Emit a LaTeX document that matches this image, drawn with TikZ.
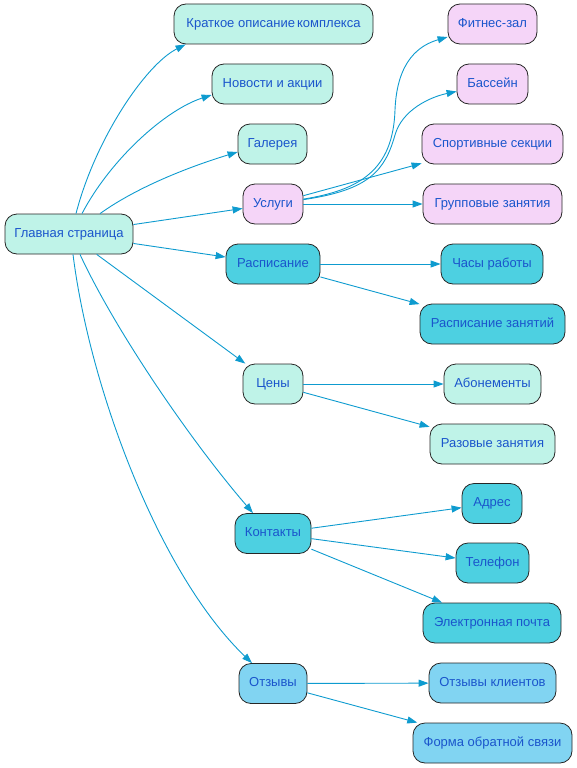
\documentclass[tikz,border=0pt]{standalone}
\usepackage{fontspec}
\setmainfont{Liberation Sans}
\usetikzlibrary{arrows.meta}
\definecolor{mint}{HTML}{BFF3E8}
\definecolor{pinkc}{HTML}{F5D5F8}
\definecolor{cyanc}{HTML}{4DD0E1}
\definecolor{lblue}{HTML}{81D4F2}
\definecolor{txt}{HTML}{1A55CC}
\definecolor{edgec}{HTML}{0E9BCF}
\begin{document}
\begin{tikzpicture}[x=1pt,y=-1pt,
  box/.style={draw=black!85, line width=0.8pt, rounded corners=12pt, minimum height=40pt,
    inner xsep=0pt, inner ysep=0pt, font=\fontsize{13}{15}\selectfont, text=txt,
    text height=9.4pt, text depth=2.6pt},
  mintbox/.style={box, fill=mint},
  pinkbox/.style={box, fill=pinkc},
  cyanbox/.style={box, fill=cyanc},
  bluebox/.style={box, fill=lblue},
  edge/.style={draw=edgec, line width=0.9pt, -{Triangle[length=10pt,width=7pt]}}]
\useasboundingbox (0,0) rectangle (577,768);
% left and middle column
\node[mintbox, minimum width=128pt] (main) at (69,234) {Главная страница};
\node[mintbox, minimum width=199pt] (kratk) at (273.5,24) {Краткое описание\hspace{-1.5pt} комплекса};
\node[mintbox, minimum width=121pt] (news) at (272.5,84) {Новости и акции};
\node[mintbox, minimum width=69pt] (gal) at (272.5,144) {Галерея};
\node[pinkbox, minimum width=60pt] (usl) at (273,204) {Услуги};
\node[cyanbox, minimum width=94pt] (rasp) at (273,264) {Расписание};
\node[mintbox, minimum width=60pt] (ceny) at (273,384) {Цены};
\node[cyanbox, minimum width=76pt] (kont) at (273,533.5) {Контакты};
\node[bluebox, minimum width=68pt] (otz) at (273,683.5) {Отзывы};
% right column
\node[pinkbox, minimum width=89pt] (fit) at (492.5,24) {Фитнес-зал};
\node[pinkbox, minimum width=71pt] (bass) at (492.5,84) {Бассейн};
\node[pinkbox, minimum width=141pt] (sport) at (492.5,144) {Спортивные секции};
\node[pinkbox, minimum width=139pt] (group) at (492.5,204) {Групповые занятия};
\node[cyanbox, minimum width=102pt] (chasy) at (492,264) {Часы работы};
\node[cyanbox, minimum width=145pt] (rasp2) at (492.5,324) {Расписание занятий};
\node[mintbox, minimum width=97pt] (abon) at (492.5,384) {Абонементы};
\node[mintbox, minimum width=125pt] (razov) at (492.5,444) {Разовые занятия};
\node[cyanbox, minimum width=60pt] (adres) at (492,503.5) {Адрес};
\node[cyanbox, minimum width=73pt] (tel) at (492.5,563) {Телефон};
\node[cyanbox, minimum width=138pt] (email) at (492,623) {Электронная почта};
\node[bluebox, minimum width=127pt] (klient) at (492.5,683) {Отзывы клиентов};
\node[bluebox, minimum width=159pt] (forma) at (492.5,743) {Форма обратной связи};
% edges from main
\draw[edge] ([xshift=7pt]main.north) .. controls (95,140) and (145,65) .. ([xshift=12pt]kratk.south west);
\draw[edge] ([xshift=13pt]main.north) .. controls (110,160) and (165,110) .. ([yshift=-11pt]news.west);
\draw[edge] ([xshift=31pt]main.north) .. controls (140,185) and (195,165) .. ([yshift=-8pt]gal.west);
\draw[edge] (main) -- (usl);
\draw[edge] (main) -- (rasp);
\draw[edge] (main) -- (ceny);
\draw[edge] ([xshift=11pt]main.south) .. controls (115,330) and (190,440) .. ([xshift=-20pt]kont.north);
\draw[edge] ([xshift=4pt]main.south) .. controls (90,390) and (160,575) .. ([xshift=-21pt]otz.north);
% edges from Услуги
\draw[edge] (usl) .. controls (360,190) and (393,170) .. (395,110) .. controls (397,60) and (420,45) .. (fit);
\draw[edge] (usl) .. controls (370,190) and (385,170) .. (395,135) .. controls (402,110) and (430,97) .. (bass);
\draw[edge] (usl) -- (sport);
\draw[edge] (usl) -- (group);
% other edges
\draw[edge] (rasp) -- (chasy);
\draw[edge] (rasp) -- (rasp2);
\draw[edge] (ceny) -- (abon);
\draw[edge] (ceny) -- (razov);
\draw[edge] (kont) -- (adres);
\draw[edge] (kont) -- (tel);
\draw[edge] (kont) -- (email);
\draw[edge] (otz) -- (klient);
\draw[edge] (otz) -- (forma);
\end{tikzpicture}
\end{document}
